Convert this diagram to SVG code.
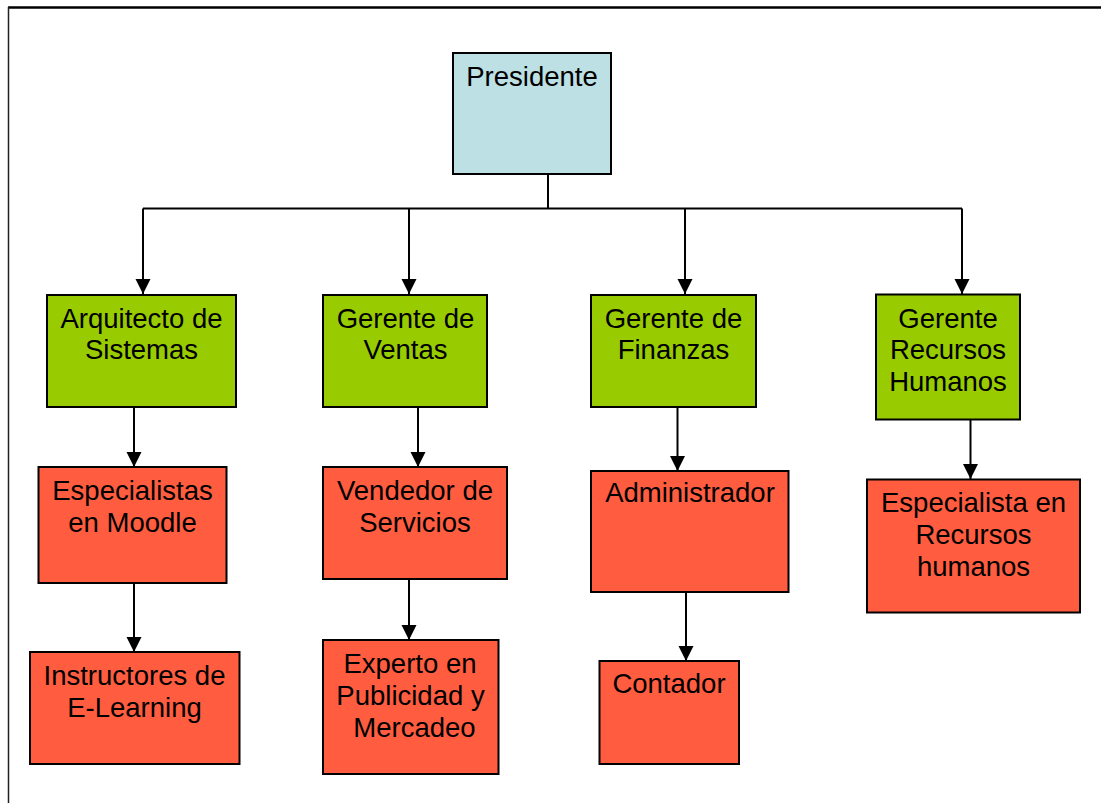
<svg xmlns="http://www.w3.org/2000/svg" width="1101" height="803" viewBox="0 0 1101 803">
<style>
.box{stroke:#000;stroke-width:2}
.top{fill:#BCE0E3}
.mgr{fill:#99CC00}
.stf{fill:#FF5C40}
text{font-family:"Liberation Sans",Arial,sans-serif;font-size:27.5px;fill:#000;text-anchor:middle}
.con{fill:none;stroke:#000;stroke-width:2}
</style>
<defs>
<marker id="arr" markerUnits="userSpaceOnUse" markerWidth="16" markerHeight="16" refX="15" refY="8" orient="auto">
<path d="M0,0.5 L15,8 L0,15.5 Z" fill="#000"/>
</marker>
</defs>
<rect width="1101" height="803" fill="#fff"/>
<line x1="8" y1="7.5" x2="1101" y2="7.5" stroke="#000" stroke-width="2.5"/>
<line x1="8.5" y1="7" x2="8.5" y2="803" stroke="#222" stroke-width="1.5"/>
<g id="connectors">
<polyline class="con" points="548,174 548,208.5"/>
<polyline class="con" points="143,208.5 962,208.5"/>
<line class="con" x1="143" y1="208.5" x2="143" y2="294" marker-end="url(#arr)"/>
<line class="con" x1="409" y1="208.5" x2="409" y2="294" marker-end="url(#arr)"/>
<line class="con" x1="685" y1="208.5" x2="685" y2="294" marker-end="url(#arr)"/>
<line class="con" x1="962" y1="208.5" x2="962" y2="294" marker-end="url(#arr)"/>
<line class="con" x1="134" y1="407" x2="134" y2="467" marker-end="url(#arr)"/>
<line class="con" x1="134" y1="583" x2="134" y2="652" marker-end="url(#arr)"/>
<line class="con" x1="418" y1="407" x2="418" y2="467" marker-end="url(#arr)"/>
<line class="con" x1="409" y1="579" x2="409" y2="640" marker-end="url(#arr)"/>
<line class="con" x1="677.5" y1="407" x2="677.5" y2="471" marker-end="url(#arr)"/>
<line class="con" x1="686" y1="592" x2="686" y2="661" marker-end="url(#arr)"/>
<line class="con" x1="970.5" y1="419" x2="970.5" y2="479" marker-end="url(#arr)"/>
</g>
<g id="presidente">
<rect class="box top" x="453" y="53" width="158" height="121"/>
<text x="532" y="86">Presidente</text>
</g>
<g id="arquitecto">
<rect class="box mgr" x="47" y="295" width="189" height="112"/>
<text x="141.5" y="327.5">Arquitecto de</text>
<text x="141.5" y="359">Sistemas</text>
</g>
<g id="ventas">
<rect class="box mgr" x="323" y="295" width="164" height="112"/>
<text x="405.5" y="327.5">Gerente de</text>
<text x="405.5" y="359">Ventas</text>
</g>
<g id="finanzas">
<rect class="box mgr" x="591" y="295" width="165" height="112"/>
<text x="673.5" y="327.5">Gerente de</text>
<text x="673.5" y="359">Finanzas</text>
</g>
<g id="rrhh">
<rect class="box mgr" x="876" y="294.5" width="144" height="125"/>
<text x="948" y="327.5">Gerente</text>
<text x="948" y="359">Recursos</text>
<text x="948" y="390.5">Humanos</text>
</g>
<g id="moodle">
<rect class="box stf" x="38.5" y="467" width="188" height="116"/>
<text x="132.5" y="500">Especialistas</text>
<text x="132.5" y="531.5">en Moodle</text>
</g>
<g id="instructores">
<rect class="box stf" x="30" y="652" width="209.5" height="112"/>
<text x="134.5" y="685">Instructores de</text>
<text x="134.5" y="716.5">E-Learning</text>
</g>
<g id="vendedor">
<rect class="box stf" x="323" y="467" width="184" height="112"/>
<text x="415" y="500">Vendedor de</text>
<text x="415" y="531.5">Servicios</text>
</g>
<g id="experto">
<rect class="box stf" x="323" y="640" width="175.5" height="134"/>
<text x="410" y="672.5">Experto en</text>
<text x="410.5" y="704.5">Publicidad y</text>
<text x="414.5" y="736.5">Mercadeo</text>
</g>
<g id="administrador">
<rect class="box stf" x="591" y="471" width="197.5" height="121"/>
<text x="690" y="501.5">Administrador</text>
</g>
<g id="contador">
<rect class="box stf" x="599.5" y="661" width="139.5" height="103"/>
<text x="669" y="693">Contador</text>
</g>
<g id="especialista-rrhh">
<rect class="box stf" x="867" y="479.5" width="213" height="133"/>
<text x="973.5" y="512">Especialista en</text>
<text x="973.5" y="544">Recursos</text>
<text x="973.5" y="576">humanos</text>
</g>
</svg>
